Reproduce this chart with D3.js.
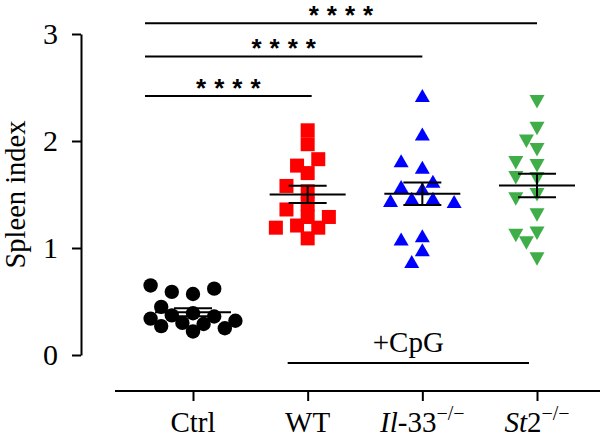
<!DOCTYPE html>
<html>
<head>
<meta charset="utf-8">
<script src="https://cdn.jsdelivr.net/npm/d3@7"></script>
<style>
  html, body { margin: 0; padding: 0; background: #fff; }
  svg { display: block; }
</style>
</head>
<body>
<svg id="chart" width="600" height="438"></svg>
<script>
// ---- data ----
const groups = ["Ctrl", "WT", "Il-33", "St2"];
const ctrlValues = [0.65, 0.62, 0.59, 0.57, 0.45, 0.39, 0.37, 0.36, 0.34, 0.32, 0.30, 0.29, 0.27, 0.25, 0.22];
const wtValues = [2.10, 1.97, 1.83, 1.77, 1.70, 1.58, 1.53, 1.41, 1.36, 1.29, 1.29, 1.21, 1.19, 1.19, 1.09];
const il33Values = [2.42, 2.06, 1.81, 1.75, 1.62, 1.57, 1.55, 1.46, 1.46, 1.44, 1.43, 1.11, 1.08, 0.98, 0.87];
const st2Values = [2.37, 2.12, 2.00, 1.92, 1.80, 1.77, 1.66, 1.65, 1.50, 1.46, 1.31, 1.14, 1.12, 1.05, 0.90];
const yTicks = [0, 1, 2, 3];
const comparisons = [ // [from, to, level]
  ["Ctrl", "WT", 2.42],
  ["Ctrl", "Il-33", 2.79],
  ["Ctrl", "St2", 3.10]
];
const sigLabel = "****";
const cpgLabel = "+CpG";
const yTitle = "Spleen index";

const series = [
  { name: "Ctrl", values: ctrlValues, color: "#000000", shape: "circle" },
  { name: "WT", values: wtValues, color: "#ff0000", shape: "square" },
  { name: "Il-33", values: il33Values, color: "#0000ff", shape: "up" },
  { name: "St2", values: st2Values, color: "#3fae49", shape: "down" }
];

// ---- layout ----
const svg = d3.select("#chart");
const y = d3.scaleLinear().domain([0, 3]).range([355, 34]);
const x = d3.scalePoint().domain(groups).range([193, 537]);
const serif = "'Liberation Serif', 'Times New Roman', serif";

// y axis
const yAxis = svg.append("g")
  .attr("transform", "translate(81,0)")
  .call(d3.axisLeft(y).tickValues(yTicks).tickFormat(d3.format("d")).tickSize(9).tickSizeOuter(0).tickPadding(14));
yAxis.selectAll("path, line").attr("stroke", "#000").attr("stroke-width", 2);
yAxis.selectAll("text").attr("font-family", serif).attr("font-size", 30).attr("fill", "#000");

svg.append("text")
  .attr("transform", `translate(25,${(y(0) + y(3)) / 2}) rotate(-90)`)
  .attr("text-anchor", "middle")
  .attr("font-family", serif).attr("font-size", 28.5)
  .text(yTitle);

// x axis
const xAxisY = 391;
const xAxis = svg.append("g")
  .attr("transform", `translate(0,${xAxisY})`)
  .call(d3.axisBottom(x).tickSize(10).tickSizeOuter(0).tickFormat(""));
xAxis.select(".domain").remove();
xAxis.selectAll("line").attr("stroke", "#000").attr("stroke-width", 2);
xAxis.selectAll("text").remove();
svg.append("line")
  .attr("x1", 115).attr("x2", 600).attr("y1", xAxisY).attr("y2", xAxisY)
  .attr("stroke", "#000").attr("stroke-width", 2);

// x labels
const labelY = 432;
function addLabel(g, parts) {
  const t = svg.append("text")
    .attr("x", x(g)).attr("y", labelY)
    .attr("text-anchor", "middle")
    .attr("font-family", serif).attr("font-size", 29).attr("fill", "#000");
  parts.forEach(p => {
    const ts = t.append("tspan").text(p.t);
    if (p.i) ts.attr("font-style", "italic");
    if (p.sup) ts.attr("font-size", 20).attr("dy", p.dy);
  });
}
addLabel("Ctrl", [{ t: "Ctrl" }]);
addLabel("WT", [{ t: "WT" }]);
addLabel("Il-33", [{ t: "Il", i: true }, { t: "-33" }, { t: "\u2212/\u2212", sup: true, dy: -12 }]);
addLabel("St2", [{ t: "St", i: true }, { t: "2" }, { t: "\u2212/\u2212", sup: true, dy: -12 }]);

// +CpG bracket
svg.append("line")
  .attr("x1", x("WT") - 20).attr("x2", x("St2") - 8)
  .attr("y1", 363).attr("y2", 363)
  .attr("stroke", "#000").attr("stroke-width", 2);
svg.append("text")
  .attr("x", (x("WT") - 20 + x("St2") - 8) / 2).attr("y", 352)
  .attr("text-anchor", "middle")
  .attr("font-family", serif).attr("font-size", 29)
  .text(cpgLabel);

// swarm placement: points nearest the mean are placed first, nearest the centre line
const step = 10.6, minDist = 12.5;
function swarm(values) {
  const m = d3.mean(values);
  const pts = values.map(v => ({ v, py: y(v) }))
    .sort((a, b) => Math.abs(a.v - m) - Math.abs(b.v - m));
  const placed = [];
  const order = [0, -1, 1, -2, 2, -3, 3, -4, 4, -5, 5];
  pts.forEach(p => {
    for (const k of order) {
      const px = k * step;
      if (placed.every(q => Math.hypot(q.dx - px, q.py - p.py) >= minDist)) {
        p.dx = px; break;
      }
    }
    if (p.dx === undefined) p.dx = 0;
    placed.push(p);
  });
  return pts;
}

function shapePath(shape) {
  if (shape === "up") return "M0,-7 L7.5,6 L-7.5,6 Z";
  if (shape === "down") return "M0,7 L7.5,-6.5 L-7.5,-6.5 Z";
  return null;
}

series.forEach(s => {
  const g = svg.append("g");
  const pts = swarm(s.values);
  const cx = x(s.name);
  pts.forEach(p => {
    if (s.shape === "circle") {
      g.append("circle").attr("cx", cx + p.dx).attr("cy", p.py).attr("r", 7.2).attr("fill", s.color);
    } else if (s.shape === "square") {
      g.append("rect").attr("x", cx + p.dx - 7).attr("y", p.py - 7).attr("width", 14).attr("height", 14).attr("fill", s.color);
    } else {
      g.append("path").attr("transform", `translate(${cx + p.dx},${p.py})`).attr("d", shapePath(s.shape)).attr("fill", s.color);
    }
  });
  // mean & SEM
  const m = d3.mean(s.values);
  const sem = d3.deviation(s.values) / Math.sqrt(s.values.length);
  const e = svg.append("g").attr("stroke", "#000").attr("stroke-width", 2);
  e.append("line").attr("x1", cx - 38).attr("x2", cx + 38).attr("y1", y(m)).attr("y2", y(m));
  e.append("line").attr("x1", cx).attr("x2", cx).attr("y1", y(m + sem)).attr("y2", y(m - sem));
  e.append("line").attr("x1", cx - 19).attr("x2", cx + 19).attr("y1", y(m + sem)).attr("y2", y(m + sem));
  e.append("line").attr("x1", cx - 19).attr("x2", cx + 19).attr("y1", y(m - sem)).attr("y2", y(m - sem));
});

// significance bars
comparisons.forEach(([a, b, lvl]) => {
  const x1 = x(a) - 48, x2 = x(b) + (b === "WT" ? 4 : 0);
  const ly = y(lvl);
  svg.append("line").attr("x1", x1).attr("x2", x2).attr("y1", ly).attr("y2", ly)
    .attr("stroke", "#000").attr("stroke-width", 2);
  svg.append("text")
    .attr("x", (x1 + x2) / 2 + 4).attr("y", ly + 1)
    .attr("text-anchor", "middle")
    .attr("font-family", "'Liberation Sans', Arial, sans-serif")
    .attr("font-weight", "bold")
    .attr("font-size", 26).attr("letter-spacing", 8)
    .text(sigLabel);
});
</script>
</body>
</html>
